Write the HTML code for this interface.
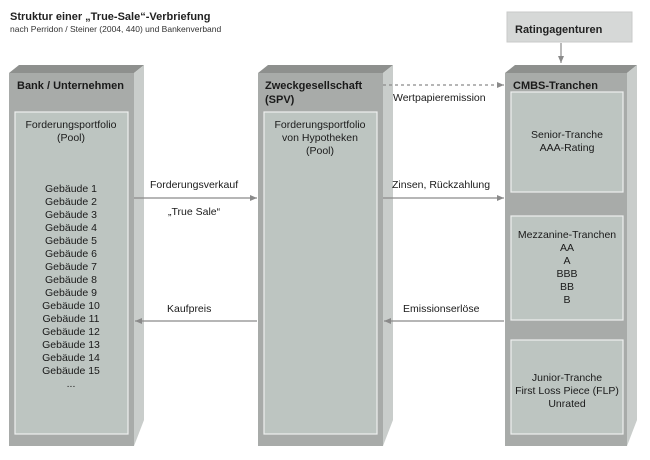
<!DOCTYPE html>
<html><head><meta charset="utf-8"><style>
html,body{margin:0;padding:0;background:#fff;}
svg{display:block;font-family:"Liberation Sans",Arial,sans-serif;}
</style></head><body>
<svg width="650" height="460" viewBox="0 0 650 460" xmlns="http://www.w3.org/2000/svg">
<defs>
<marker id="ah" markerWidth="8" markerHeight="8" refX="7" refY="4" orient="auto" markerUnits="userSpaceOnUse"><path d="M0,1 L7,4 L0,7 Z" fill="#8a8a8a"/></marker>
</defs>
<text x="10" y="20" font-size="11" font-weight="bold" fill="#222">Struktur einer „True-Sale“-Verbriefung</text>
<text x="10" y="32" font-size="8.5" fill="#333">nach Perridon / Steiner (2004, 440) und Bankenverband</text>

<rect x="507" y="12" width="125" height="30" fill="#d6d8d7" stroke="#c8cac9"/>
<text x="515" y="33" font-size="11" font-weight="bold" fill="#222">Ratingagenturen</text>
<line x1="561" y1="43" x2="561" y2="63" stroke="#8a8a8a" stroke-width="1.2" marker-end="url(#ah)"/>

<polygon points="9,73 19,65 144,65 134,73" fill="#8e908e"/>
<polygon points="134,73 144,65 144,420 134,446" fill="#c9cdcb"/>
<rect x="9" y="73" width="125" height="373" fill="#a8aba9"/>
<rect x="15" y="112" width="113" height="322" fill="#bdc5c1" stroke="#eef0ef" stroke-width="1.2"/>

<polygon points="258,73 268,65 393,65 383,73" fill="#8e908e"/>
<polygon points="383,73 393,65 393,420 383,446" fill="#c9cdcb"/>
<rect x="258" y="73" width="125" height="373" fill="#a8aba9"/>
<rect x="264" y="112" width="113" height="322" fill="#bdc5c1" stroke="#eef0ef" stroke-width="1.2"/>

<polygon points="505,73 515,65 637,65 627,73" fill="#8e908e"/>
<polygon points="627,73 637,65 637,420 627,446" fill="#c9cdcb"/>
<rect x="505" y="73" width="122" height="373" fill="#a8aba9"/>
<rect x="511" y="92" width="112" height="100" fill="#bdc5c1" stroke="#eef0ef" stroke-width="1.2"/>
<rect x="511" y="216" width="112" height="104" fill="#bdc5c1" stroke="#eef0ef" stroke-width="1.2"/>
<rect x="511" y="340" width="112" height="94" fill="#bdc5c1" stroke="#eef0ef" stroke-width="1.2"/>

<g font-size="11" font-weight="bold" fill="#1a1a1a">
<text x="17" y="89">Bank / Unternehmen</text>
<text x="265" y="89">Zweckgesellschaft</text>
<text x="265" y="103">(SPV)</text>
<text x="513" y="89">CMBS-Tranchen</text>
</g>

<g font-size="10.5" fill="#1a1a1a" text-anchor="middle">
<text x="71" y="128">Forderungsportfolio</text>
<text x="71" y="141">(Pool)</text>
<text x="71" y="192">Gebäude 1</text>
<text x="71" y="205">Gebäude 2</text>
<text x="71" y="218">Gebäude 3</text>
<text x="71" y="231">Gebäude 4</text>
<text x="71" y="244">Gebäude 5</text>
<text x="71" y="257">Gebäude 6</text>
<text x="71" y="270">Gebäude 7</text>
<text x="71" y="283">Gebäude 8</text>
<text x="71" y="296">Gebäude 9</text>
<text x="71" y="309">Gebäude 10</text>
<text x="71" y="322">Gebäude 11</text>
<text x="71" y="335">Gebäude 12</text>
<text x="71" y="348">Gebäude 13</text>
<text x="71" y="361">Gebäude 14</text>
<text x="71" y="374">Gebäude 15</text>
<text x="71" y="387">...</text>

<text x="320" y="128">Forderungsportfolio</text>
<text x="320" y="141">von Hypotheken</text>
<text x="320" y="154">(Pool)</text>

<text x="567" y="138">Senior-Tranche</text>
<text x="567" y="151">AAA-Rating</text>
<text x="567" y="238">Mezzanine-Tranchen</text>
<text x="567" y="251">AA</text>
<text x="567" y="264">A</text>
<text x="567" y="277">BBB</text>
<text x="567" y="290">BB</text>
<text x="567" y="303">B</text>
<text x="567" y="381">Junior-Tranche</text>
<text x="567" y="394">First Loss Piece (FLP)</text>
<text x="567" y="407">Unrated</text>
</g>

<g stroke="#8a8a8a" stroke-width="1.2" fill="none">
<line x1="383" y1="85" x2="504" y2="85" stroke-dasharray="3,3" marker-end="url(#ah)"/>
<line x1="134" y1="198" x2="257" y2="198" marker-end="url(#ah)"/>
<line x1="383" y1="198" x2="504" y2="198" marker-end="url(#ah)"/>
<line x1="257" y1="321" x2="135" y2="321" marker-end="url(#ah)"/>
<line x1="504" y1="321" x2="384" y2="321" marker-end="url(#ah)"/>
</g>
<g font-size="10.5" fill="#1a1a1a">
<text x="393" y="101">Wertpapieremission</text>
<text x="150" y="188">Forderungsverkauf</text>
<text x="168" y="215">„True Sale“</text>
<text x="392" y="188">Zinsen, Rückzahlung</text>
<text x="167" y="312">Kaufpreis</text>
<text x="403" y="312">Emissionserlöse</text>
</g>
</svg>
</body></html>
